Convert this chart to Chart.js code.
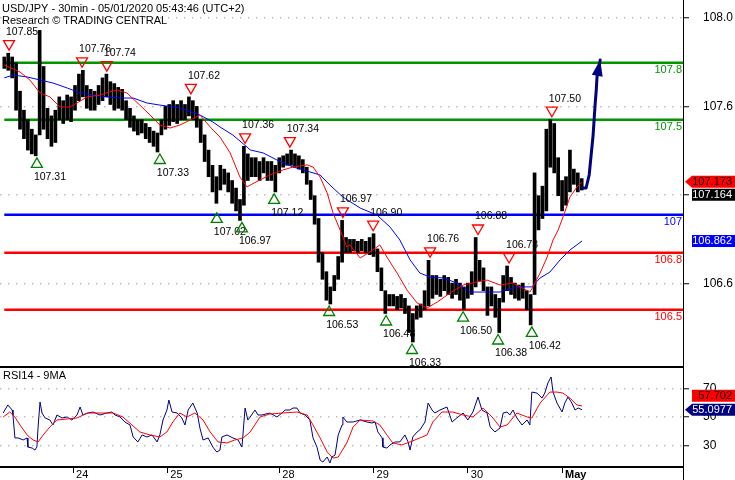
<!DOCTYPE html>
<html><head><meta charset="utf-8">
<script src="https://cdn.jsdelivr.net/npm/chart.js@4.4.1/dist/chart.umd.min.js"></script>
<style>
html,body{margin:0;padding:0;background:#fff;}
#wrap{position:relative;width:735px;height:480px;overflow:hidden;background:#fff;}
#c1{position:absolute;left:0;top:0;width:735px;height:366px;}
#c2{position:absolute;left:0;top:366px;width:735px;height:114px;}
</style></head><body>
<div id="wrap"><canvas id="c1" width="735" height="366"></canvas><canvas id="c2" width="735" height="114"></canvas></div>
<script>
// ---------- DATA (x unit = hourly bar index) ----------
const titleText = ['USD/JPY - 30min - 05/01/2020 05:43:46 (UTC+2)', 'Research \u00A9 TRADING CENTRAL'];
const rsiTitle = 'RSI14 - 9MA';
const dayTicks = [17.5, 41.5, 70, 94, 118, 142];
const dayLabels = ['24', '25', '28', '29', '30', 'May'];
const priceTicks = [106.637, 107.103, 107.570, 108.037];
const rsiTicks = [30, 50, 70];

const barLow = [107.77,107.76,107.72,107.55,107.45,107.40,107.34,107.32,107.31,107.42,
107.45,107.40,107.36,107.38,107.50,107.48,107.50,107.49,107.55,107.60,
107.62,107.56,107.55,107.55,107.58,107.60,107.62,107.58,107.55,107.56,
107.55,107.50,107.46,107.44,107.42,107.43,107.40,107.38,107.36,107.33,
107.42,107.45,107.47,107.49,107.48,107.50,107.50,107.52,107.50,107.46,
107.38,107.28,107.20,107.12,107.06,107.13,107.16,107.12,107.06,107.02,
106.97,107.05,107.18,107.20,107.20,107.18,107.22,107.18,107.18,107.12,
107.22,107.25,107.26,107.26,107.25,107.24,107.22,107.16,107.08,106.95,
106.75,106.66,106.55,106.53,106.60,106.66,106.75,106.80,106.80,106.81,
106.80,106.81,106.80,106.79,106.78,106.70,106.60,106.48,106.52,106.52,
106.50,106.51,106.48,106.38,106.33,106.45,106.46,106.50,106.52,106.56,
106.58,106.57,106.60,106.58,106.56,106.58,106.55,106.50,106.56,106.58,
106.62,106.65,106.60,106.47,106.52,106.46,106.38,106.54,106.60,106.58,
106.56,106.55,106.56,106.50,106.42,106.58,106.92,106.98,107.02,107.25,
107.22,107.10,107.02,107.05,107.12,107.16,107.12,107.13];
const barHigh = [107.83,107.85,107.83,107.80,107.65,107.55,107.50,107.45,107.42,107.97,
107.78,107.56,107.52,107.55,107.62,107.60,107.63,107.62,107.68,107.74,
107.76,107.68,107.66,107.65,107.68,107.72,107.74,107.70,107.69,107.67,
107.66,107.60,107.56,107.52,107.50,107.50,107.48,107.46,107.44,107.43,
107.50,107.57,107.58,107.60,107.58,107.60,107.58,107.62,107.60,107.57,
107.50,107.42,107.34,107.26,107.20,107.26,107.24,107.22,107.18,107.14,
107.08,107.36,107.32,107.30,107.30,107.28,107.30,107.28,107.28,107.26,
107.30,107.31,107.32,107.34,107.32,107.31,107.29,107.25,107.18,107.10,
106.98,106.80,106.70,106.62,106.68,106.78,106.97,106.88,106.87,106.87,
106.86,106.87,106.86,106.88,106.90,106.82,106.72,106.60,106.58,106.58,
106.57,106.58,106.56,106.52,106.48,106.52,106.53,106.60,106.76,106.68,
106.68,106.66,106.68,106.67,106.64,106.66,106.64,106.62,106.64,106.70,
106.88,106.76,106.72,106.62,106.62,106.58,106.56,106.68,106.73,106.67,
106.64,106.63,106.64,106.60,106.58,107.22,107.10,107.15,107.45,107.50,
107.48,107.30,107.18,107.20,107.34,107.24,107.22,107.19];
const lastClose = 107.164;

const maFastX = [0,4.0,6.5,9.1,11.6,14.2,16.7,18.5,21.1,24.4,26.9,28.7,31.2,34.5,37.1,39.6,42.2,44.7,47.3,49.8,52.4,54.9,57.5,60.0,61.8,62.6,65.1,67.6,70.9,73.5,77.1,78.6,80.4,82.2,83.7,85.5,87.2,88.0,90.6,93.1,95.6,97.4,100.0,102.5,105.1,107.6,110.2,113.5,116.8,120.3,122.9,126.2,129.5,131.3,133.8,134.6,136.4,138.2,139.7,141.0,142.7,144.0,145.8,147.1];
const maFastP = [107.788,107.751,107.709,107.641,107.62,107.567,107.567,107.588,107.62,107.63,107.646,107.656,107.641,107.577,107.525,107.472,107.456,107.472,107.498,107.525,107.462,107.409,107.325,107.198,107.146,107.156,107.183,107.209,107.235,107.251,107.262,107.251,107.198,107.114,107.009,106.919,106.83,106.841,106.772,106.804,106.841,106.777,106.693,106.604,106.535,106.509,106.54,106.588,106.63,106.646,106.656,106.63,106.641,106.62,106.593,106.62,106.693,106.777,106.867,106.919,107.014,107.093,107.146,107.173];
const maSlowX = [0,2.2,5.8,9.1,12.4,16.0,19.3,22.6,26.1,29.5,32.8,36.3,39.6,44.7,49.8,53.1,54.9,58.2,61.8,62.6,65.9,69.4,73.5,77.8,80.4,82.9,86.2,90.6,94.9,98.2,100.7,103.3,105.8,108.4,111.7,115.2,118.6,121.9,126.2,129.5,132.0,134.3,136.4,138.9,141.5,144.0,147.1];
const maSlowP = [107.72,107.735,107.725,107.709,107.693,107.667,107.641,107.63,107.62,107.614,107.614,107.588,107.577,107.562,107.525,107.488,107.462,107.419,107.356,107.341,107.325,107.288,107.251,107.225,107.209,107.156,107.093,107.035,106.998,106.935,106.867,106.762,106.693,106.672,106.667,106.641,106.593,106.593,106.593,106.614,106.62,106.62,106.667,106.698,106.762,106.814,106.862];

const levelValues = [107.8, 107.5, 107, 106.8, 106.5];
const levelLabels = ['107.8', '107.5', '107', '106.8', '106.5'];

const annHighX = [1.2, 19.8, 26.1, 47.5, 61.3, 72.7, 86.2, 93.9, 108.4, 120.6, 128.5, 139.4];
const annHighP = [107.85, 107.76, 107.74, 107.62, 107.36, 107.34, 106.97, 106.90, 106.76, 106.88, 106.73, 107.50];
const annLowX = [8.3, 39.6, 54.1, 60.5, 68.7, 82.7, 97.2, 103.8, 116.8, 125.7, 134.3];
const annLowP = [107.31, 107.33, 107.02, 106.97, 107.12, 106.53, 106.48, 106.33, 106.50, 106.38, 106.42];

const arrowX = [147.3, 148.1, 148.9, 149.9, 150.4, 150.7, 150.9, 151.7];
const arrowP = [107.14, 107.14, 107.209, 107.419, 107.577, 107.656, 107.725, 107.814];

const rsiX = [-0.3,0.9,2.0,2.2,2.7,3.5,4.8,5.8,6.0,7.1,7.8,8.3,8.6,9.1,9.6,10.4,11.6,12.4,13.4,14.7,16.0,17.2,18.5,19.3,20.0,21.3,22.6,24.4,26.1,27.4,28.2,29.5,30.7,32.0,32.8,34.0,35.1,36.3,37.6,38.9,39.6,40.4,41.4,41.9,42.7,44.0,45.2,46.0,46.8,48.0,49.1,49.8,50.6,51.9,53.1,54.1,54.9,55.4,56.7,58.2,59.5,60.5,61.3,62.0,62.6,63.8,64.6,65.6,67.6,69.4,70.7,71.5,72.7,73.5,74.5,75.3,76.6,77.8,78.6,79.6,80.4,81.1,82.2,82.9,83.4,84.2,85.0,86.0,86.2,87.2,88.8,90.6,92.3,93.6,94.4,95.1,96.2,96.4,97.4,98.2,99.5,100.7,102.0,102.8,103.3,104.0,105.1,105.8,107.1,107.9,108.9,109.6,110.9,112.7,114.0,115.2,116.8,118.0,119.3,120.6,121.6,122.9,123.7,124.9,126.2,127.0,128.0,128.7,129.5,130.5,131.8,133.1,133.8,134.3,135.6,136.9,137.6,138.4,139.2,139.7,140.7,142.0,142.7,143.5,144.5,145.3,146.1,147.1];
const rsiV = [52.8,58.4,54.9,51.4,35.3,35.3,33.9,35.3,28.9,28.2,26.8,28.9,43.0,60.5,52.8,49.3,47.9,44.4,51.4,49.3,50.0,47.9,51.4,57.0,51.4,52.8,53.5,51.4,52.8,53.5,51.4,50.0,46.5,44.4,36.0,32.5,37.4,36.0,37.4,32.5,37.4,47.9,54.9,61.9,53.5,52.8,49.3,44.4,54.9,59.8,52.8,42.3,33.9,35.3,28.9,25.4,26.8,36.0,37.4,35.3,33.9,28.9,56.3,47.9,50.0,54.9,51.4,51.4,52.8,50.0,52.8,54.9,54.9,56.3,56.3,52.8,51.4,47.9,35.3,28.9,19.8,18.4,21.9,17.7,21.9,23.3,37.4,44.4,50.0,46.5,46.5,47.9,46.5,45.8,46.5,39.5,35.3,28.9,28.2,30.4,32.5,32.5,37.4,32.5,26.8,36.0,39.5,40.9,46.5,59.8,54.9,52.8,54.9,57.0,46.5,49.3,52.8,47.9,53.5,64.0,54.9,52.8,43.0,39.5,42.3,52.8,53.5,51.4,54.9,49.3,44.4,47.9,44.4,67.5,66.8,63.3,66.8,73.9,78.1,67.5,59.8,53.5,59.8,64.0,59.8,54.9,56.3,55.0977];
const rsiMaX = [-0.3,1.4,2.7,4.0,5.8,7.3,8.6,9.9,11.6,13.4,16.0,18.5,21.1,24.4,27.7,30.2,32.5,34.5,37.1,39.6,41.4,42.9,44.7,46.5,48.5,50.6,52.4,54.4,56.7,58.7,60.8,62.6,65.1,67.6,70.9,74.5,77.1,78.6,80.4,82.2,83.7,85.0,87.2,88.8,90.6,93.9,95.6,97.4,98.9,101.2,103.3,105.8,107.6,109.1,111.4,114.2,116.8,119.3,121.9,124.4,126.2,128.0,130.5,133.1,134.3,136.4,138.9,140.7,142.2,144.0,145.8,147.1];
const rsiMaV = [50.0,53.5,50.0,44.4,37.4,33.9,32.5,37.4,43.0,47.9,48.6,49.3,52.8,52.8,52.8,50.0,44.4,39.5,37.4,36.0,39.5,46.5,52.8,50.0,52.8,47.9,39.5,32.5,31.8,33.9,35.3,39.5,50.0,52.1,52.8,53.5,51.4,44.4,35.3,25.4,21.2,21.9,31.8,43.0,47.9,47.2,44.4,37.4,31.8,30.4,32.5,35.3,37.4,46.5,53.5,53.5,51.4,50.0,56.3,49.3,43.0,44.4,52.8,50.0,49.3,59.8,67.5,67.5,66.8,63.3,58.4,57.702];

// ---------- STYLE ----------
const FONT = '"Liberation Sans", Arial, Helvetica, sans-serif';
Chart.defaults.font.family = FONT;
Chart.defaults.color = '#000';
const X_MIN = -1.095, X_MAX = 172.785;
const levelColors = ['#009600', '#009600', '#0000ff', '#ff0000', '#ff0000'];
const pts = (xs, ys) => xs.map((x, i) => ({x: x, y: ys[i]}));

function tag(ctx, yc, text, bg, fg, pointer) {
  const h = 12, left = 692, right = 735, tip = 685;
  ctx.beginPath();
  if (pointer) { ctx.moveTo(tip, yc); ctx.lineTo(left, yc - h / 2); } else { ctx.moveTo(left, yc - h / 2); }
  ctx.lineTo(right, yc - h / 2); ctx.lineTo(right, yc + h / 2); ctx.lineTo(left, yc + h / 2);
  ctx.closePath(); ctx.fillStyle = bg; ctx.fill();
  ctx.fillStyle = fg; ctx.font = '11px ' + FONT; ctx.textAlign = 'right'; ctx.textBaseline = 'middle';
  ctx.fillText(text, 732, yc + 0.5);
}
function tri(ctx, cx, cy, down, color) {
  ctx.beginPath();
  if (down) { ctx.moveTo(cx - 5.5, cy - 4.5); ctx.lineTo(cx + 5.5, cy - 4.5); ctx.lineTo(cx, cy + 5); }
  else { ctx.moveTo(cx - 5.5, cy + 4.5); ctx.lineTo(cx + 5.5, cy + 4.5); ctx.lineTo(cx, cy - 5); }
  ctx.closePath(); ctx.strokeStyle = color; ctx.lineWidth = 1.3; ctx.stroke();
}

const overlayTop = {
  id: 'overlayTop',
  afterDatasetsDraw(chart) {
    const {ctx, chartArea: a, scales: {x, y}} = chart;
    ctx.save();
    ctx.font = '11px ' + FONT; ctx.textAlign = 'right'; ctx.textBaseline = 'middle';
    levelValues.forEach((v, i) => { ctx.fillStyle = levelColors[i]; ctx.fillText(levelLabels[i], a.right - 1, y.getPixelForValue(v) + 7.5); });
    const n = arrowX.length;
    const tx = x.getPixelForValue(arrowX[n - 1]), ty = y.getPixelForValue(arrowP[n - 1]);
    const bx = x.getPixelForValue(arrowX[n - 2]), by = y.getPixelForValue(arrowP[n - 2]);
    const ang = Math.atan2(ty - by, tx - bx);
    const L = 16, W = 5.5;
    const cxp = tx - L * Math.cos(ang), cyp = ty - L * Math.sin(ang);
    ctx.beginPath(); ctx.moveTo(tx, ty);
    ctx.lineTo(cxp + W * Math.sin(ang), cyp - W * Math.cos(ang));
    ctx.lineTo(cxp - W * Math.sin(ang), cyp + W * Math.cos(ang));
    ctx.closePath(); ctx.fillStyle = '#000080'; ctx.fill();
    ctx.font = '10.5px ' + FONT; ctx.textAlign = 'left'; ctx.textBaseline = 'middle'; ctx.fillStyle = '#000';
    annHighX.forEach((hx, i) => {
      const px = x.getPixelForValue(hx), py = y.getPixelForValue(annHighP[i]) - 8;
      tri(ctx, px, py, true, '#ff0000');
      ctx.fillStyle = '#000'; ctx.fillText(annHighP[i].toFixed(2), px - 3, py - 13);
    });
    annLowX.forEach((hx, i) => {
      const px = x.getPixelForValue(hx), py = y.getPixelForValue(annLowP[i]) + 7;
      tri(ctx, px, py, false, '#008000');
      ctx.fillStyle = '#000'; ctx.fillText(annLowP[i].toFixed(2), px - 3, py + 14);
    });
    ctx.font = '11px ' + FONT; ctx.textBaseline = 'alphabetic'; ctx.fillStyle = '#000';
    ctx.fillText(titleText[0], 2, 11.5); ctx.fillText(titleText[1], 2, 24);
    ctx.restore();
  },
  afterDraw(chart) {
    const {ctx, scales: {y}} = chart;
    ctx.save();
    const fastLast = maFastP[maFastP.length - 1], slowLast = maSlowP[maSlowP.length - 1];
    const yR = y.getPixelForValue(fastLast);
    let yK = y.getPixelForValue(lastClose);
    if (Math.abs(yK - yR) < 13) yK = yR + 13;
    tag(ctx, yR, fastLast.toFixed(3), '#ff0000', '#000', true);
    tag(ctx, yK, lastClose.toFixed(3), '#000', '#fff', false);
    tag(ctx, y.getPixelForValue(slowLast), slowLast.toFixed(3), '#0000ff', '#fff', false);
    ctx.restore();
  }
};

const overlayRsi = {
  id: 'overlayRsi',
  afterDraw(chart) {
    const {ctx, chartArea: a, scales: {y}} = chart;
    ctx.save();
    ctx.fillStyle = '#000';
    ctx.fillRect(0, a.top - 1, a.right, 2);
    ctx.fillRect(0, a.bottom - 1, a.right, 2);
    ctx.fillRect(a.right, 0, 1, chart.height);
    ctx.font = '11px ' + FONT; ctx.textAlign = 'left'; ctx.textBaseline = 'alphabetic';
    ctx.fillText(rsiTitle, 3, 13);
    const rLast = rsiV[rsiV.length - 1], mLast = rsiMaV[rsiMaV.length - 1];
    const yN = y.getPixelForValue(rLast);
    let yM = y.getPixelForValue(mLast);
    if (Math.abs(yM - yN) < 13) yM = mLast > rLast ? yN - 14 : yN + 14;
    tag(ctx, yM, mLast.toFixed(3), '#ff0000', '#000', false);
    tag(ctx, yN, rLast.toFixed(4), '#000080', '#fff', true);
    ctx.restore();
  }
};

const yAxisCommon = (min, max, tickVals, fmt) => ({
  type: 'linear', position: 'right', min: min, max: max,
  afterBuildTicks: s => { s.ticks = tickVals.map(v => ({value: v})); },
  afterFit: s => { s.width = 52; s.paddingTop = 0; s.paddingBottom = 0; },
  ticks: {callback: fmt, font: {size: 12}, padding: 14, color: '#000'},
  grid: {color: '#bdbdbd', lineWidth: 1.5, drawTicks: true, tickLength: 6, tickColor: '#000', tickWidth: 1, tickBorderDash: []},
  border: {display: true, color: '#000', width: 1, dash: [1.5, 6.5]}
});

new Chart(document.getElementById('c1'), {
  type: 'line',
  data: {datasets: [
    {type: 'line', data: pts(arrowX, arrowP), borderColor: '#000080', borderWidth: 3, pointRadius: 0, order: 0, borderCapStyle: 'round', borderJoinStyle: 'round'},
    {type: 'line', data: pts(maFastX, maFastP), borderColor: '#ff0000', borderWidth: 1, pointRadius: 0, order: 1},
    {type: 'line', data: pts(maSlowX, maSlowP), borderColor: '#0000ff', borderWidth: 1, pointRadius: 0, order: 2},
    {type: 'bar', data: barLow.map((lo, i) => ({x: i, y: [lo, barHigh[i]]})), backgroundColor: '#000', borderWidth: 0, barThickness: 3, order: 3},
    ...levelValues.map((v, i) => ({type: 'line', data: [{x: 0, y: v}, {x: X_MAX, y: v}], borderColor: levelColors[i], borderWidth: 2.5, pointRadius: 0, order: 4}))
  ]},
  options: {
    responsive: false, animation: false, events: [],
    layout: {padding: 0},
    plugins: {legend: {display: false}, tooltip: {enabled: false}},
    scales: {
      x: {type: 'linear', display: false, min: X_MIN, max: X_MAX, offset: false, grid: {offset: false}},
      y: yAxisCommon(106.2037, 108.13, priceTicks, v => Number(v).toFixed(1))
    }
  },
  plugins: [overlayTop]
});

new Chart(document.getElementById('c2'), {
  type: 'line',
  data: {datasets: [
    {data: pts(rsiMaX, rsiMaV), borderColor: '#ff0000', borderWidth: 1, pointRadius: 0, order: 0},
    {data: pts(rsiX, rsiV), borderColor: '#000080', borderWidth: 1, pointRadius: 0, order: 1}
  ]},
  options: {
    responsive: false, animation: false, events: [],
    layout: {padding: {top: 1, left: 0, right: 0, bottom: 0}},
    plugins: {legend: {display: false}, tooltip: {enabled: false}},
    scales: {
      x: {type: 'linear', position: 'bottom', min: X_MIN, max: X_MAX, offset: false,
        afterBuildTicks: s => { s.ticks = dayTicks.map(v => ({value: v})); },
        afterFit: s => { s.height = 13; s.paddingLeft = 0; s.paddingRight = 0; },
        ticks: {autoSkip: false, maxRotation: 0, minRotation: 0, align: 'start', labelOffset: 3, padding: -5, color: '#000',
          callback: (v, i) => dayLabels[i],
          font: c => ({size: 11, weight: dayLabels[c.index] === 'May' ? 'bold' : 'normal'})},
        grid: {offset: false, drawOnChartArea: false, drawTicks: true, tickLength: 6, color: '#000', tickColor: '#000', lineWidth: 1},
        border: {display: false}
      },
      y: yAxisCommon(14.91, 85.09, rsiTicks, v => String(v))
    }
  },
  plugins: [overlayRsi]
});
</script>
</body></html>
